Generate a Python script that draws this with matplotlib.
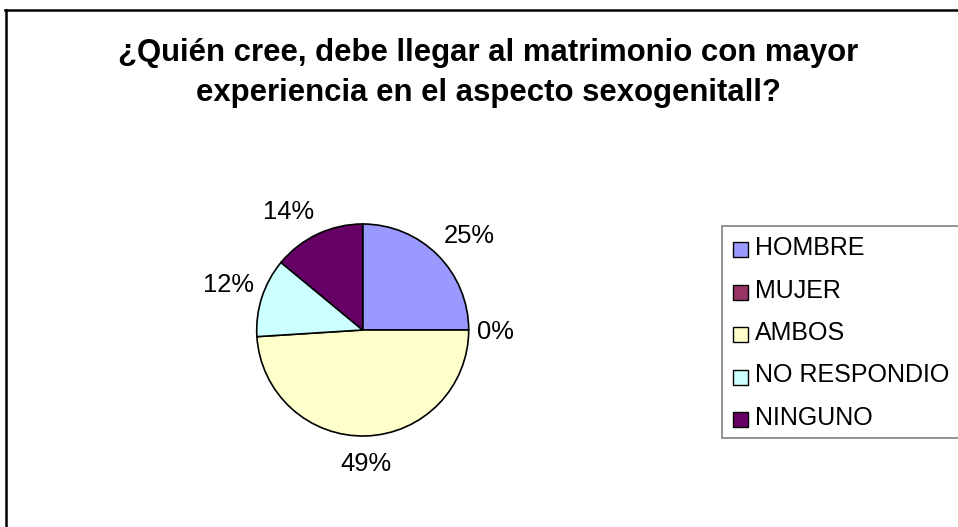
import numpy as np
import matplotlib
matplotlib.use("Agg")
import matplotlib.pyplot as plt
from matplotlib.patches import Rectangle
from matplotlib.lines import Line2D

categories = ["HOMBRE", "MUJER", "AMBOS", "NO RESPONDIO", "NINGUNO"]
values = [25, 0, 49, 12, 14]
colors = ["#9999FF", "#993366", "#FFFFCC", "#CCFFFF", "#660066"]
title_lines = ["¿Quién cree, debe llegar al matrimonio con mayor",
               "experiencia en el aspecto sexogenitall?"]

W, H = 958, 527
DPI = 100
plt.rcParams['font.family'] = ['Liberation Sans', 'DejaVu Sans']
fig = plt.figure(figsize=(W / DPI, H / DPI), dpi=DPI)
fig.patch.set_facecolor('white')

def fx(px):
    return px / W

def fy(py):
    return 1 - py / H

# outer frame (left and top edges visible)
fig.add_artist(Line2D([fx(6), fx(6)], [fy(10), fy(530)], color='black', lw=1.8))
fig.add_artist(Line2D([fx(5), fx(960)], [fy(10), fy(10)], color='black', lw=1.8))

# title
fig.text(fx(488), fy(61), title_lines[0], ha='center', va='baseline',
         fontsize=22.4, fontweight='bold')
fig.text(fx(488), fy(101), title_lines[1], ha='center', va='baseline',
         fontsize=22.4, fontweight='bold')

# pie
cx, cy, r = 362.7, 330, 106
ax = fig.add_axes([fx(cx - r), fy(cy + r), 2 * r / W, 2 * r / H])
wedges, _ = ax.pie(values, colors=colors, startangle=90, counterclock=False,
                   radius=1, wedgeprops=dict(edgecolor='black', linewidth=1.2))
ax.set_xlim(-1, 1)
ax.set_ylim(-1, 1)
ax.axis('off')

label_fs = 18.4
cap = 0.716 * label_fs * DPI / 72 / r  # cap height in data units
total = float(sum(values))
for w, v in zip(wedges, values):
    th = np.deg2rad((w.theta1 + w.theta2) / 2)
    c, s = np.cos(th), np.sin(th)
    x, y = 1.08 * c, 1.16 * s
    ha = 'left' if c > 0.1 else ('right' if c < -0.1 else 'center')
    if s > 0.1:
        yb = y
    elif s < -0.1:
        yb = y - cap
    else:
        yb = y - cap / 2
    ax.text(x, yb, f"{100 * v / total:.0f}%", ha=ha, va='baseline',
            fontsize=label_fs, clip_on=False)

# legend
lx0, ly0, ly1 = 722, 226, 438
fig.add_artist(Rectangle((fx(lx0), fy(ly1)), fx(980) - fx(lx0), fy(ly0) - fy(ly1),
                         transform=fig.transFigure, facecolor='white',
                         edgecolor='#808080', lw=1.2))
row_base = [255, 297.5, 340, 382.5, 425]
sq = 15
for cat, col, yb in zip(categories, colors, row_base):
    fig.add_artist(Rectangle((fx(733), fy(yb - 13 + sq)), sq / W, sq / H,
                             transform=fig.transFigure, facecolor=col,
                             edgecolor='black', lw=1.0))
    fig.text(fx(755), fy(yb), cat, ha='left', va='baseline', fontsize=18)

fig.savefig("out.png", dpi=DPI, facecolor='white')
